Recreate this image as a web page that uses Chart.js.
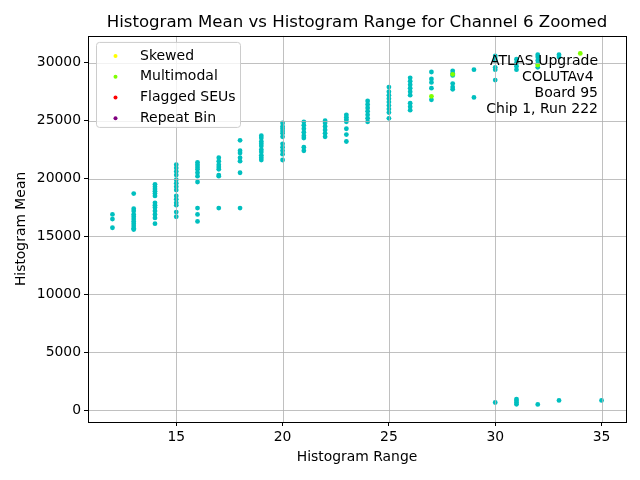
<!DOCTYPE html>
<html>
<head>
<meta charset="utf-8">
<script src="https://cdn.jsdelivr.net/npm/chart.js@4.4.0/dist/chart.umd.min.js"></script>
<style>
  html, body { margin: 0; padding: 0; background: #fff; }
  #wrap { width: 640px; height: 480px; }
</style>
</head>
<body>
<div id="wrap"><canvas id="histChart" width="640" height="480"></canvas></div>
<script>
// === DATA ===
// histogram range (x) and the histogram means seen at each range
const rangeValues = [12, 13, 14, 15, 16, 17, 18, 19, 20, 21, 22, 23, 24, 25, 26, 27, 28, 29, 30, 31, 32, 33, 35];
const meanValues = [
  [16900, 16500, 15750],
  [18700, 17400, 17200, 16900, 16700, 16500, 16300, 16100, 15900, 15700, 15600],
  [19500, 19300, 19100, 18900, 18700, 18500, 17900, 17700, 17500, 17200, 16900, 16600, 16100],
  [21200, 20900, 20600, 20300, 19900, 19600, 19300, 19000, 18500, 18200, 17900, 17700, 17100, 16700],
  [21400, 21200, 21000, 20800, 20500, 20200, 19700, 17450, 16900, 16300],
  [21800, 21500, 21200, 21000, 20800, 20300, 20200, 17450],
  [23300, 22400, 22200, 21800, 21500, 20500, 17450],
  [23700, 23500, 23200, 23000, 22800, 22500, 22300, 22000, 21800, 21600],
  [24800, 24500, 24300, 24100, 23900, 23600, 23000, 22700, 22400, 22100, 21600],
  [24900, 24600, 24300, 24000, 23700, 23500, 22700, 22400],
  [25000, 24800, 24500, 24200, 23900, 23600],
  [25500, 25300, 25100, 24900, 24300, 23800, 23200],
  [26700, 26400, 26100, 25800, 25500, 25200, 24900],
  [27900, 27500, 27200, 26900, 26600, 26300, 26000, 25700, 25200],
  [28700, 28400, 28100, 27800, 27500, 27200, 26500, 26200, 25900],
  [29200, 28600, 28300, 27800, 26800],
  [29300, 29100, 28900, 28200, 27900, 27700],
  [29400, 27000],
  [30600, 30400, 30200, 29600, 29400, 28500, 660],
  [30300, 30000, 29700, 29400, 950, 800, 650, 500],
  [30700, 30500, 30200, 29900, 29600, 490],
  [30700, 30500, 840],
  [840]
];

// flagged histograms (only multimodal ones show up)
const skewedRange = [];
const skewedMean = [];
const multimodalRange = [27, 28, 32, 34];
const multimodalMean = [27100, 29000, 29800, 30800];
const flaggedRange = [];
const flaggedMean = [];
const repeatRange = [];
const repeatMean = [];

const xTicks = [15, 20, 25, 30, 35];
const yTicks = [0, 5000, 10000, 15000, 20000, 25000, 30000];
const infoLines = ["ATLAS Upgrade", "COLUTAv4 ", "Board 95", "Chip 1, Run 222"];

// === HELPERS ===
function toPoints(xs, ys) {
  return xs.map((x, i) => ({ x: x, y: ys[i] }));
}

// matplotlib style 5% margins
function padded(vals) {
  const lo = Math.min(...vals), hi = Math.max(...vals);
  const m = (hi - lo) * 0.05;
  return { min: lo - m, max: hi + m };
}

const allPoints = rangeValues.flatMap((r, i) => meanValues[i].map(m => ({ x: r, y: m })));
const xLim = padded(rangeValues.concat(multimodalRange));
const yLim = padded(meanValues.flat().concat(multimodalMean));

// grid over markers, frame, info text and legend (drawn like matplotlib)
const overlayPlugin = {
  id: 'overlay',
  afterDatasetsDraw(chart) {
    const { ctx, chartArea: a, scales: { x, y } } = chart;
    ctx.save();

    ctx.strokeStyle = '#b0b0b0';
    ctx.lineWidth = 0.8;
    ctx.beginPath();
    xTicks.forEach(v => {
      const px = Math.round(x.getPixelForValue(v)) + 0.5;
      ctx.moveTo(px, a.top);
      ctx.lineTo(px, a.bottom);
    });
    yTicks.forEach(v => {
      const py = Math.round(y.getPixelForValue(v)) + 0.5;
      ctx.moveTo(a.left, py);
      ctx.lineTo(a.right, py);
    });
    ctx.stroke();

    ctx.strokeStyle = '#000';
    ctx.lineWidth = 1;
    ctx.strokeRect(Math.round(a.left) + 0.5, Math.round(a.top) + 0.5,
                   Math.round(a.right - a.left), Math.round(a.bottom - a.top));

    // run info, right aligned in the top right corner
    ctx.fillStyle = '#000';
    ctx.font = "14px 'DejaVu Sans'";
    ctx.textAlign = 'right';
    ctx.textBaseline = 'middle';
    infoLines.forEach((line, i) => {
      ctx.fillText(line, a.right - 28, a.top + 25 + i * 16);
    });

    // legend box (upper left, inside the axes)
    const flagSets = chart.data.datasets.filter(d => d.inLegend);
    const lx = a.left + 8.5, ly = a.top + 6.5, lw = 144, lh = 85;
    ctx.beginPath();
    ctx.roundRect(lx, ly, lw, lh, 3);
    ctx.fillStyle = 'rgba(255,255,255,0.8)';
    ctx.fill();
    ctx.strokeStyle = '#cccccc';
    ctx.lineWidth = 1;
    ctx.stroke();
    ctx.textAlign = 'left';
    flagSets.forEach((d, i) => {
      const cy = ly + 13.5 + i * 20.8;
      ctx.beginPath();
      ctx.arc(lx + 19, cy, 2, 0, Math.PI * 2);
      ctx.fillStyle = d.backgroundColor;
      ctx.fill();
      ctx.fillStyle = '#000';
      ctx.fillText(d.label, lx + 43.5, cy);
    });

    ctx.restore();
  }
};

// === CHART ===
Chart.defaults.font.family = "'DejaVu Sans'";
Chart.defaults.color = '#000';

function createHistChart() {
  const ctx = document.getElementById('histChart').getContext('2d');
  return new Chart(ctx, {
    type: 'scatter',
    data: {
      datasets: [
        { label: 'Skewed', data: toPoints(skewedRange, skewedMean), backgroundColor: '#ffff00', inLegend: true },
        { label: 'Multimodal', data: toPoints(multimodalRange, multimodalMean), backgroundColor: '#7fff00', inLegend: true },
        { label: 'Flagged SEUs', data: toPoints(flaggedRange, flaggedMean), backgroundColor: '#ff0000', inLegend: true },
        { label: 'Repeat Bin', data: toPoints(repeatRange, repeatMean), backgroundColor: '#800080', inLegend: true },
        { label: 'All', data: allPoints, backgroundColor: '#00bfbf', inLegend: false }
      ]
    },
    options: {
      responsive: false,
      animation: false,
      devicePixelRatio: 1,
      elements: { point: { radius: 2.4, borderWidth: 0, hoverRadius: 2.4 } },
      layout: { padding: { left: 0, right: 14, top: 0, bottom: 0 } },
      plugins: {
        legend: { display: false },
        tooltip: { enabled: false },
        title: {
          display: true,
          fullSize: false,
          text: 'Histogram Mean vs Histogram Range for Channel 6 Zoomed',
          font: { size: 16.6, weight: 'normal' },
          color: '#000',
          padding: { top: 13, bottom: 3 }
        }
      },
      scales: {
        x: {
          type: 'linear',
          min: xLim.min,
          max: xLim.max,
          afterBuildTicks: s => { s.ticks = xTicks.map(v => ({ value: v })); },
          afterFit: s => { s.height = 58; },
          ticks: { font: { size: 13.9 }, padding: 3, maxRotation: 0, callback: v => String(v) },
          grid: { drawOnChartArea: false, drawTicks: true, tickLength: 4, tickColor: '#000' },
          border: { display: false },
          title: { display: true, text: 'Histogram Range', font: { size: 13.9 }, padding: { top: 0, bottom: 14.5 } }
        },
        y: {
          type: 'linear',
          min: yLim.min,
          max: yLim.max,
          afterBuildTicks: s => { s.ticks = yTicks.map(v => ({ value: v })); },
          afterFit: s => { s.width = 88; },
          ticks: { font: { size: 13.9 }, padding: 3, callback: v => String(v) },
          grid: { drawOnChartArea: false, drawTicks: true, tickLength: 4, tickColor: '#000' },
          border: { display: false },
          title: { display: true, text: 'Histogram Mean', font: { size: 13.9 }, padding: { top: 13.5, bottom: 0 } }
        }
      }
    },
    plugins: [overlayPlugin]
  });
}

document.addEventListener('DOMContentLoaded', () => {
  createHistChart();
});
</script>
</body>
</html>
